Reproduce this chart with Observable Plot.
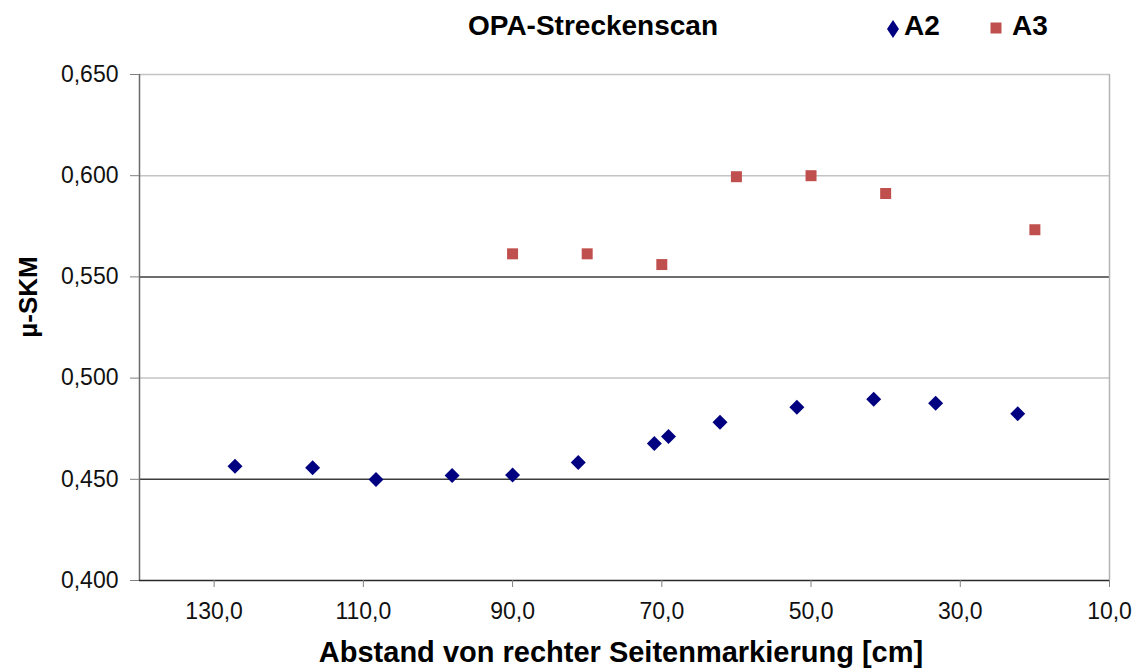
<!DOCTYPE html>
<html>
<head>
<meta charset="utf-8">
<script src="https://cdn.jsdelivr.net/npm/d3@7"></script>
<script src="https://cdn.jsdelivr.net/npm/@observablehq/plot@0.6"></script>
<style>
  html, body { margin: 0; padding: 0; background: #fff; }
  #wrap { position: relative; width: 1134px; height: 670px; font-family: "Liberation Sans", Arial, sans-serif; color: #000; }
  .t { position: absolute; line-height: 1; white-space: nowrap; font-weight: bold; z-index: 2; }
  #chart { position: absolute; left: 0; top: 50px; z-index: 1; }
</style>
</head>
<body>
<div id="wrap">
  <div id="chart"></div>
  <div class="t" id="title" style="left:468px; top:12px; font-size:28px;">OPA-Streckenscan</div>
  <svg style="position:absolute; left:886px; top:19px; z-index:2;" width="14" height="20"><polygon points="7,1 13,10 7,19 1,10" fill="#000080"/></svg>
  <div class="t" style="left:904px; top:12px; font-size:28px;">A2</div>
  <svg style="position:absolute; left:990px; top:22px; z-index:2;" width="12" height="12"><rect x="0.5" y="0.5" width="11" height="11" fill="#c0504d"/></svg>
  <div class="t" style="left:1012px; top:12px; font-size:28px;">A3</div>
  <div class="t" id="ylab" style="left:28px; top:297px; font-size:26px; transform: translate(-50%,-50%) rotate(-90deg);">µ-SKM</div>
  <div class="t" id="xlab" style="left:621px; top:638px; font-size:29px; transform: translateX(-50%);">Abstand von rechter Seitenmarkierung [cm]</div>
</div>
<script>
// Data
const a2X = [127.2, 116.8, 108.3, 98.1, 90.0, 81.2, 71.0, 69.1, 62.2, 51.9, 41.6, 33.3, 22.3];
const a2Y = [0.4565, 0.4557, 0.4499, 0.4519, 0.4521, 0.4583, 0.4677, 0.4712, 0.4782, 0.4856, 0.4896, 0.4876, 0.4824];
const a3X = [90, 80, 70, 60, 50, 40, 20];
const a3Y = [0.5614, 0.5614, 0.5561, 0.5995, 0.6000, 0.5912, 0.5733];
const xTicks = [130, 110, 90, 70, 50, 30, 10];
const yTicks = [0.400, 0.450, 0.500, 0.550, 0.600, 0.650];
const xDomain = [140, 10];
const yDomain = [0.400, 0.650];
const lightGrid = [0.500, 0.600, 0.650];
const darkGrid = [0.450, 0.550];

const a2 = a2X.map((x, i) => ({x, y: a2Y[i]}));
const a3 = a3X.map((x, i) => ({x, y: a3Y[i]}));

const fmtX = d => d.toFixed(1).replace(".", ",");
const fmtY = d => d.toFixed(3).replace(".", ",");

const plot = Plot.plot({
  width: 1134,
  height: 580,
  marginTop: 24,
  marginBottom: 50,
  marginLeft: 139,
  marginRight: 25,
  style: {fontFamily: "'Liberation Sans', Arial, sans-serif", fontSize: "23px", background: "#fff", color: "#000"},
  x: {domain: xDomain},
  y: {domain: yDomain},
  marks: [
    Plot.ruleY(lightGrid, {stroke: "#c4c4c4", strokeWidth: 1.5}),
    Plot.ruleY(darkGrid, {stroke: "#3c3c3c", strokeWidth: 1.5}),
    Plot.ruleX([xDomain[1]], {stroke: "#b4b4b4", strokeWidth: 1.5}),
    Plot.ruleX([xDomain[0]], {stroke: "#6a6a6a", strokeWidth: 1.5}),
    Plot.ruleY([yDomain[0]], {stroke: "#2a2a2a", strokeWidth: 1.5}),
    Plot.axisX(xTicks, {tickSize: 7, tickPadding: 15, tickFormat: fmtX, stroke: "#808080", fill: "#111", label: null}),
    Plot.axisY(yTicks, {tickSize: 9, tickPadding: 12, tickFormat: fmtY, stroke: "#808080", fill: "#111", label: null}),
    Plot.dot(a2, {x: "x", y: "y", symbol: "diamond2", r: 6.75, fill: "#000080", stroke: "none"}),
    Plot.dot(a3, {x: "x", y: "y", symbol: "square", r: 6.2, fill: "#c0504d", stroke: "none"})
  ]
});
document.getElementById("chart").appendChild(plot);
</script>
</body>
</html>
